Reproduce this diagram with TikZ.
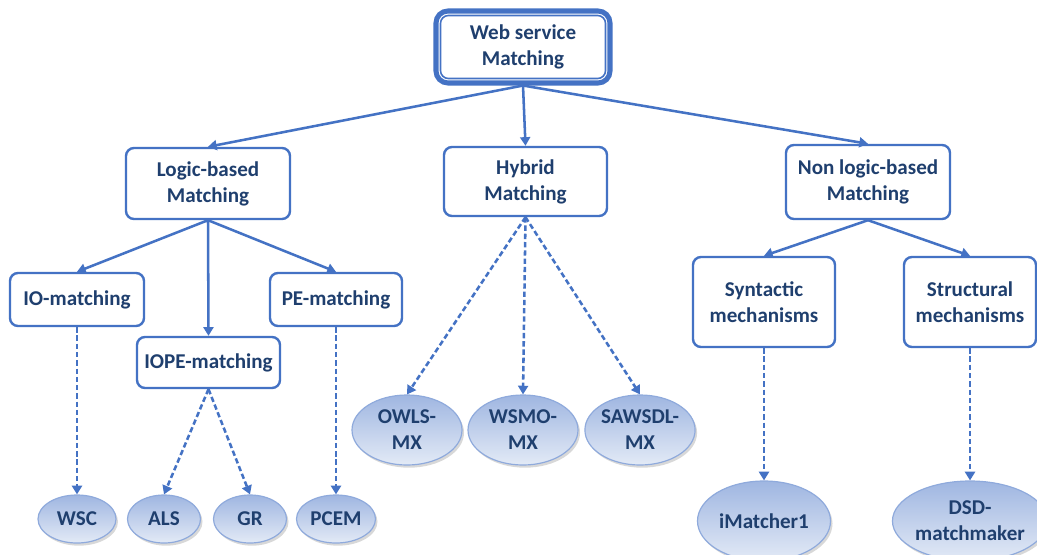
\documentclass[tikz,border=0pt]{standalone}
\usepackage{fontspec}
\setmainfont{Carlito}
\usetikzlibrary{arrows.meta,shapes.geometric,shadows}
\definecolor{linkblue}{HTML}{4472C4}
\definecolor{labelblue}{HTML}{1F3F6E}
\definecolor{ovaledge}{HTML}{8FAADC}
\definecolor{ovaltop}{HTML}{9FB6E1}
\definecolor{ovalbottom}{HTML}{E3EAF6}
\begin{document}
\begin{tikzpicture}[x=0.75pt,y=-0.75pt,
  font=\fontsize{15.8pt}{19.5pt}\selectfont\bfseries,
  txt/.style={text=labelblue,align=center},
  box/.style={txt,draw=linkblue,line width=1.8pt,rounded corners=6pt,fill=white,inner sep=0pt},
  oval/.style={txt,ellipse,draw=ovaledge,line width=0.9pt,inner sep=0pt,
    top color=ovaltop,bottom color=ovalbottom,
    drop shadow={shadow xshift=1.5pt,shadow yshift=-2pt,opacity=0.3,fill=gray}},
  link/.style={draw=linkblue,line width=1.9pt,-{Triangle[length=6.5pt,width=7.5pt]}},
  dlink/.style={link,dash pattern=on 4pt off 2.2pt}]

% page frame
\path[fill=white] (0,0) rectangle (1037,554);
\useasboundingbox (0,0) rectangle (1037,554);

% root
\node[box,line width=3.8pt,rounded corners=9pt,minimum width=130.5pt,minimum height=54pt] (root) at (523,47) {Web service\\Matching};
\draw[linkblue,line width=1.2pt,rounded corners=6pt]
  ([shift={(7,7)}]root.north west) rectangle ([shift={(-7,-7)}]root.south east);

% second level
\node[box,minimum width=123pt,minimum height=53.25pt] (logic) at (208,183.5) {Logic-based\\Matching};
\node[box,minimum width=122.25pt,minimum height=51.75pt] (hybrid) at (525.5,181.5) {Hybrid\\Matching};
\node[box,minimum width=123pt,minimum height=55.5pt] (nonlogic) at (868,182) {Non logic-based\\Matching};

% third level
\node[box,minimum width=100.5pt,minimum height=39.75pt] (io) at (77,299.5) {IO-matching};
\node[box,minimum width=107.25pt,minimum height=38.25pt] (iope) at (208.5,362.5) {IOPE-matching};
\node[box,minimum width=99pt,minimum height=39.75pt] (pe) at (336,299.5) {PE-matching};
\node[box,minimum width=106.5pt,minimum height=67.5pt] (syn) at (764,302) {Syntactic\\mechanisms};
\node[box,minimum width=99pt,minimum height=67.5pt] (struct) at (970,302) {Structural\\mechanisms};

% leaves
\node[oval,minimum width=58.5pt,minimum height=36pt] (wsc) at (77,519) {WSC};
\node[oval,minimum width=54.75pt,minimum height=36pt] (als) at (164,519) {ALS};
\node[oval,minimum width=54.75pt,minimum height=36pt] (gr) at (250,519) {GR};
\node[oval,minimum width=59.25pt,minimum height=36pt] (pcem) at (336,519) {PCEM};
\node[oval,minimum width=82.5pt,minimum height=52.5pt] (owls) at (407,430) {OWLS-\\MX};
\node[oval,minimum width=82.5pt,minimum height=52.5pt] (wsmo) at (523,430) {WSMO-\\MX};
\node[oval,minimum width=82.5pt,minimum height=52.5pt] (sawsdl) at (640,430) {SAWSDL-\\MX};
\node[oval,minimum width=99.75pt,minimum height=60pt] (imatch) at (764,521) {iMatcher1};
\node[oval,minimum width=97.5pt,minimum height=60pt] (dsd) at (970,521) {DSD-\\matchmaker};

% solid links
\draw[link] (root.south) -- (logic.north);
\draw[link] (root.south) -- (hybrid.north);
\draw[link] (root.south) -- (nonlogic.north);
\draw[link] (logic.south) -- (io.north);
\draw[link] (logic.south) -- (iope.north);
\draw[link] (logic.south) -- (pe.north);
\draw[link] (nonlogic.south) -- (syn.north);
\draw[link] (nonlogic.south) -- (struct.north);

% dashed links
\draw[dlink] (io.south) -- (wsc.north);
\draw[dlink] (iope.south) -- (als.north);
\draw[dlink] (iope.south) -- (gr.north);
\draw[dlink] (pe.south) -- (pcem.north);
\draw[dlink] (hybrid.south) -- (owls.north);
\draw[dlink] (hybrid.south) -- (wsmo.north);
\draw[dlink] (hybrid.south) -- (sawsdl.north);
\draw[dlink] (syn.south) -- (imatch.north);
\draw[dlink] (struct.south) -- (dsd.north);
\end{tikzpicture}
\end{document}
